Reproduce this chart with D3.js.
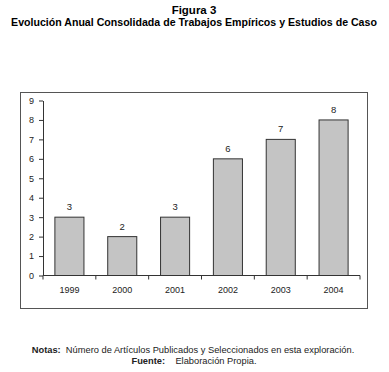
<!DOCTYPE html>
<html>
<head>
<meta charset="utf-8">
<script src="https://cdn.jsdelivr.net/npm/d3@7"></script>
<style>
  body { margin: 0; background: #fff; }
  svg { font-family: "Liberation Sans", Arial, sans-serif; }
  .axis path, .axis line { stroke: #333; }
  .axis text { font-size: 9px; fill: #222; }
</style>
</head>
<body>
<div id="chart"></div>
<script>
const years  = ["1999", "2000", "2001", "2002", "2003", "2004"];
const counts = [3, 2, 3, 6, 7, 8];
const yTicks = [0, 1, 2, 3, 4, 5, 6, 7, 8, 9];

const W = 389, H = 372;
const plot = { left: 43, right: 360, top: 100.5, bottom: 275.5 };

const svg = d3.select("#chart")
  .append("svg")
  .attr("width", W)
  .attr("height", H);

// titles
svg.append("text")
  .attr("x", 194).attr("y", 14)
  .attr("text-anchor", "middle")
  .attr("font-size", "11.5px")
  .attr("font-weight", "bold")
  .text("Figura 3");

svg.append("text")
  .attr("x", 194).attr("y", 26)
  .attr("text-anchor", "middle")
  .attr("font-size", "10.6px")
  .attr("font-weight", "bold")
  .text("Evolución Anual Consolidada de Trabajos Empíricos y Estudios de Caso");

// outer frame
svg.append("rect")
  .attr("x", 20.5).attr("y", 92.5)
  .attr("width", 347).attr("height", 216)
  .attr("fill", "none")
  .attr("stroke", "#555")
  .attr("stroke-width", 1);

const x = d3.scaleBand()
  .domain(years)
  .range([plot.left, plot.right])
  .paddingInner(0.45)
  .paddingOuter(0.225);

const y = d3.scaleLinear()
  .domain([0, 9])
  .range([plot.bottom, plot.top]);

// bars
svg.append("g")
  .selectAll("rect")
  .data(years)
  .join("rect")
  .attr("x", d => x(d))
  .attr("y", (d, i) => y(counts[i]))
  .attr("width", x.bandwidth())
  .attr("height", (d, i) => y(0) - y(counts[i]))
  .attr("fill", "#c4c4c4")
  .attr("stroke", "#333")
  .attr("stroke-width", 1);

// value labels
svg.append("g")
  .selectAll("text")
  .data(years)
  .join("text")
  .attr("x", d => x(d) + x.bandwidth() / 2)
  .attr("y", (d, i) => y(counts[i]) - 7)
  .attr("text-anchor", "middle")
  .attr("font-size", "9.5px")
  .attr("fill", "#222")
  .text((d, i) => counts[i]);

// y axis
svg.append("g")
  .attr("class", "axis")
  .attr("transform", `translate(${plot.left},0)`)
  .call(d3.axisLeft(y).tickValues(yTicks).tickSize(4).tickSizeOuter(0).tickPadding(5));

// x axis with ticks between categories
const xAxis = svg.append("g")
  .attr("class", "axis")
  .attr("transform", `translate(0,${plot.bottom})`);

xAxis.append("line")
  .attr("x1", plot.left).attr("x2", plot.right)
  .attr("stroke", "#333");

const bounds = d3.range(years.length + 1).map(i => plot.left + i * (plot.right - plot.left) / years.length);
xAxis.selectAll(".sep")
  .data(bounds)
  .join("line")
  .attr("class", "sep")
  .attr("x1", d => d).attr("x2", d => d)
  .attr("y1", 0).attr("y2", 4)
  .attr("stroke", "#333");

xAxis.selectAll(".lbl")
  .data(years)
  .join("text")
  .attr("class", "lbl")
  .attr("x", d => x(d) + x.bandwidth() / 2)
  .attr("y", 17)
  .attr("text-anchor", "middle")
  .attr("font-size", "9px")
  .attr("fill", "#222")
  .text(d => d);

// notes
svg.append("text")
  .attr("x", 193).attr("y", 353)
  .attr("text-anchor", "middle")
  .attr("font-size", "9.3px")
  .attr("fill", "#222")
  .attr("xml:space", "preserve")
  .html('<tspan font-weight="bold">Notas:</tspan>  Número de Artículos Publicados y Seleccionados en esta exploración.');

svg.append("text")
  .attr("x", 194).attr("y", 364)
  .attr("text-anchor", "middle")
  .attr("font-size", "9.3px")
  .attr("fill", "#222")
  .attr("xml:space", "preserve")
  .html('<tspan font-weight="bold">Fuente:</tspan>    Elaboración Propia.');
</script>
</body>
</html>
